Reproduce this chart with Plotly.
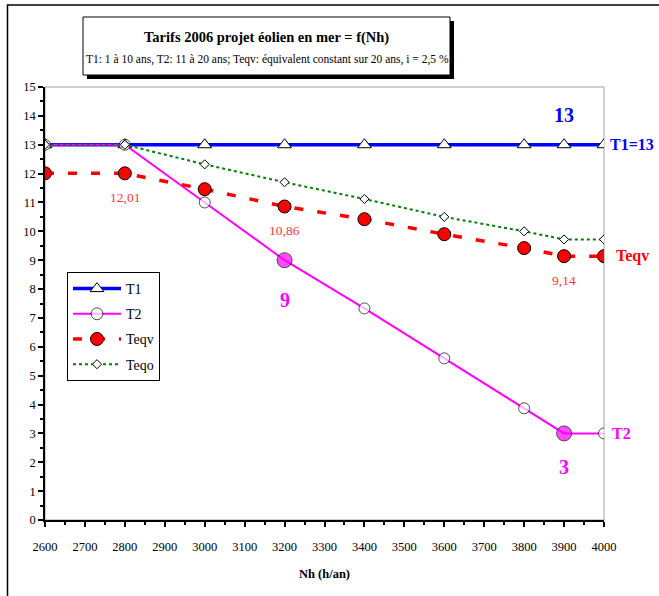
import plotly.graph_objects as go

nh = [2600, 2800, 3000, 3200, 3400, 3600, 3800, 3900, 4000]
t1 = [13, 13, 13, 13, 13, 13, 13, 13, 13]
t2 = [13, 13, 11, 9, 7.33, 5.6, 3.87, 3, 3]
teqv = [12.01, 12.01, 11.46, 10.86, 10.42, 9.9, 9.42, 9.14, 9.14]
teqo = [13, 13, 12.32, 11.7, 11.12, 10.5, 10.0, 9.72, 9.72]

FONT = "Liberation Serif"
W, H = 659, 596
L, R, T, B = 45, 55, 87, 76
pw, ph = W - L - R, H - T - B

def px(x):
    return (x - L) / pw

def py(y):
    return (H - B - y) / ph

fig = go.Figure()

fig.add_trace(go.Scatter(
    x=nh, y=t1, name="T1", mode="lines+markers", legendgroup="a",
    line=dict(color="#0000FF", width=3.5),
    marker=dict(symbol="triangle-up", size=12, color="white",
                line=dict(color="black", width=1)),
))
t2_colors = ["white"] * len(nh)
t2_sizes = [11] * len(nh)
for i in (3, 7):
    t2_colors[i] = "#FF00FF"
    t2_sizes[i] = 15
fig.add_trace(go.Scatter(
    x=nh, y=t2, name="T2", mode="lines+markers", legendgroup="b",
    line=dict(color="#FF00FF", width=2),
    marker=dict(symbol="circle", size=t2_sizes, color=t2_colors,
                line=dict(color="black", width=1)),
))
fig.add_trace(go.Scatter(
    x=nh, y=teqv, name="Teqv", mode="lines+markers", legendgroup="c",
    line=dict(color="#FF0000", width=3.5, dash="9px,14px"),
    marker=dict(symbol="circle", size=13, color="#FF0000",
                line=dict(color="black", width=1)),
))
fig.add_trace(go.Scatter(
    x=nh, y=teqo, name="Teqo", mode="lines+markers", legendgroup="d",
    line=dict(color="#008000", width=2, dash="dot"),
    marker=dict(symbol="diamond", size=7, color="white",
                line=dict(color="black", width=1)),
))

ann = []
bold_blue = dict(family=FONT, size=20, color="#0000FF")
ann.append(dict(x=nh[7], y=t1[7], text="<b>13</b>", showarrow=False,
                font=bold_blue, yshift=30))
ann.append(dict(x=nh[-1], y=t1[-1], text="<b>T1=13</b>", showarrow=False,
                xanchor="left", xshift=4,
                font=dict(family=FONT, size=16, color="#0000FF")))
ann.append(dict(x=nh[-1], y=t2[-1], text="<b>T2</b>", showarrow=False,
                xanchor="left", xshift=6,
                font=dict(family=FONT, size=16, color="#FF00FF")))
ann.append(dict(x=nh[-1], y=teqv[-1], text="<b>Teqv</b>", showarrow=False,
                xanchor="left", xshift=10,
                font=dict(family=FONT, size=16, color="#FF0000")))
ann.append(dict(x=nh[3], y=t2[3], text="<b>9</b>", showarrow=False,
                yshift=-40, font=dict(family=FONT, size=20, color="#FF00FF")))
ann.append(dict(x=nh[7], y=t2[7], text="<b>3</b>", showarrow=False,
                yshift=-34, font=dict(family=FONT, size=20, color="#FF00FF")))
red_lbl = dict(family=FONT, size=13.5, color="#FF3333")
ann.append(dict(x=nh[1], y=teqv[1], text=f"{teqv[1]:.2f}".replace(".", ","),
                showarrow=False, yshift=-24, font=red_lbl))
ann.append(dict(x=nh[3], y=teqv[3], text=f"{teqv[3]:.2f}".replace(".", ","),
                showarrow=False, yshift=-24, font=red_lbl))
ann.append(dict(x=nh[7], y=teqv[7], text=f"{teqv[7]:.2f}".replace(".", ","),
                showarrow=False, yshift=-24, font=red_lbl))
# title
ann.append(dict(xref="paper", yref="paper", x=px(266), y=py(37),
                xanchor="center", yanchor="middle",
                text="<b>Tarifs 2006 projet éolien en mer = f(Nh)</b>",
                showarrow=False, font=dict(family=FONT, size=14.5, color="black")))
ann.append(dict(xref="paper", yref="paper", x=px(267), y=py(59),
                xanchor="center", yanchor="middle",
                text="T1: 1 à 10 ans, T2: 11 à 20 ans; Teqv: équivalent constant sur 20 ans, i = 2,5 %",
                showarrow=False, font=dict(family=FONT, size=11.5, color="black")))

shapes = [
    # outer frame
    dict(type="rect", xref="paper", yref="paper", x0=px(7.5), x1=px(700),
         y0=py(640), y1=py(5), line=dict(color="black", width=1.5), layer="below"),
    # plot border (gray)
    dict(type="rect", xref="paper", yref="paper", x0=0, x1=1, y0=0, y1=1,
         line=dict(color="#A0A0A0", width=1), layer="below"),
    # title shadow
    dict(type="rect", xref="paper", yref="paper", x0=px(87), x1=px(454),
         y0=py(79), y1=py(21), fillcolor="black", line=dict(width=0)),
    # title box
    dict(type="rect", xref="paper", yref="paper", x0=px(83), x1=px(450),
         y0=py(75), y1=py(17), fillcolor="white",
         line=dict(color="black", width=1)),
]

fig.update_layout(
    width=W, height=H,
    margin=dict(l=L, r=R, t=T, b=B),
    paper_bgcolor="white", plot_bgcolor="white",
    font=dict(family=FONT, size=12, color="black"),
    showlegend=True,
    legend=dict(x=px(67), y=py(272), xanchor="left", yanchor="top",
                bgcolor="white", bordercolor="black", borderwidth=1,
                font=dict(family=FONT, size=14, color="black"),
                tracegroupgap=4, itemwidth=48),
    annotations=ann,
    shapes=shapes,
    xaxis=dict(range=[2600, 4000], dtick=100, tick0=2600,
               showgrid=False, zeroline=False,
               showline=True, linecolor="black", linewidth=1.5,
               ticks="outside", ticklen=5, tickcolor="black", tickwidth=1.5,
               ticklabelstandoff=9,
               minor=dict(dtick=50, ticks="outside", ticklen=3,
                          tickcolor="black", showgrid=False),
               tickfont=dict(family=FONT, size=12.5),
               title=dict(text="<b>Nh (h/an)</b>", standoff=16,
                          font=dict(family=FONT, size=12.5))),
    yaxis=dict(range=[0, 15], dtick=1, showgrid=False, zeroline=False,
               showline=True, linecolor="black", linewidth=1.5,
               ticks="outside", ticklen=5, tickcolor="black", tickwidth=1.5,
               minor=dict(dtick=0.5, ticks="outside", ticklen=3,
                          tickcolor="black", showgrid=False),
               tickfont=dict(family=FONT, size=12.5)),
)

fig.write_html("out.html")
